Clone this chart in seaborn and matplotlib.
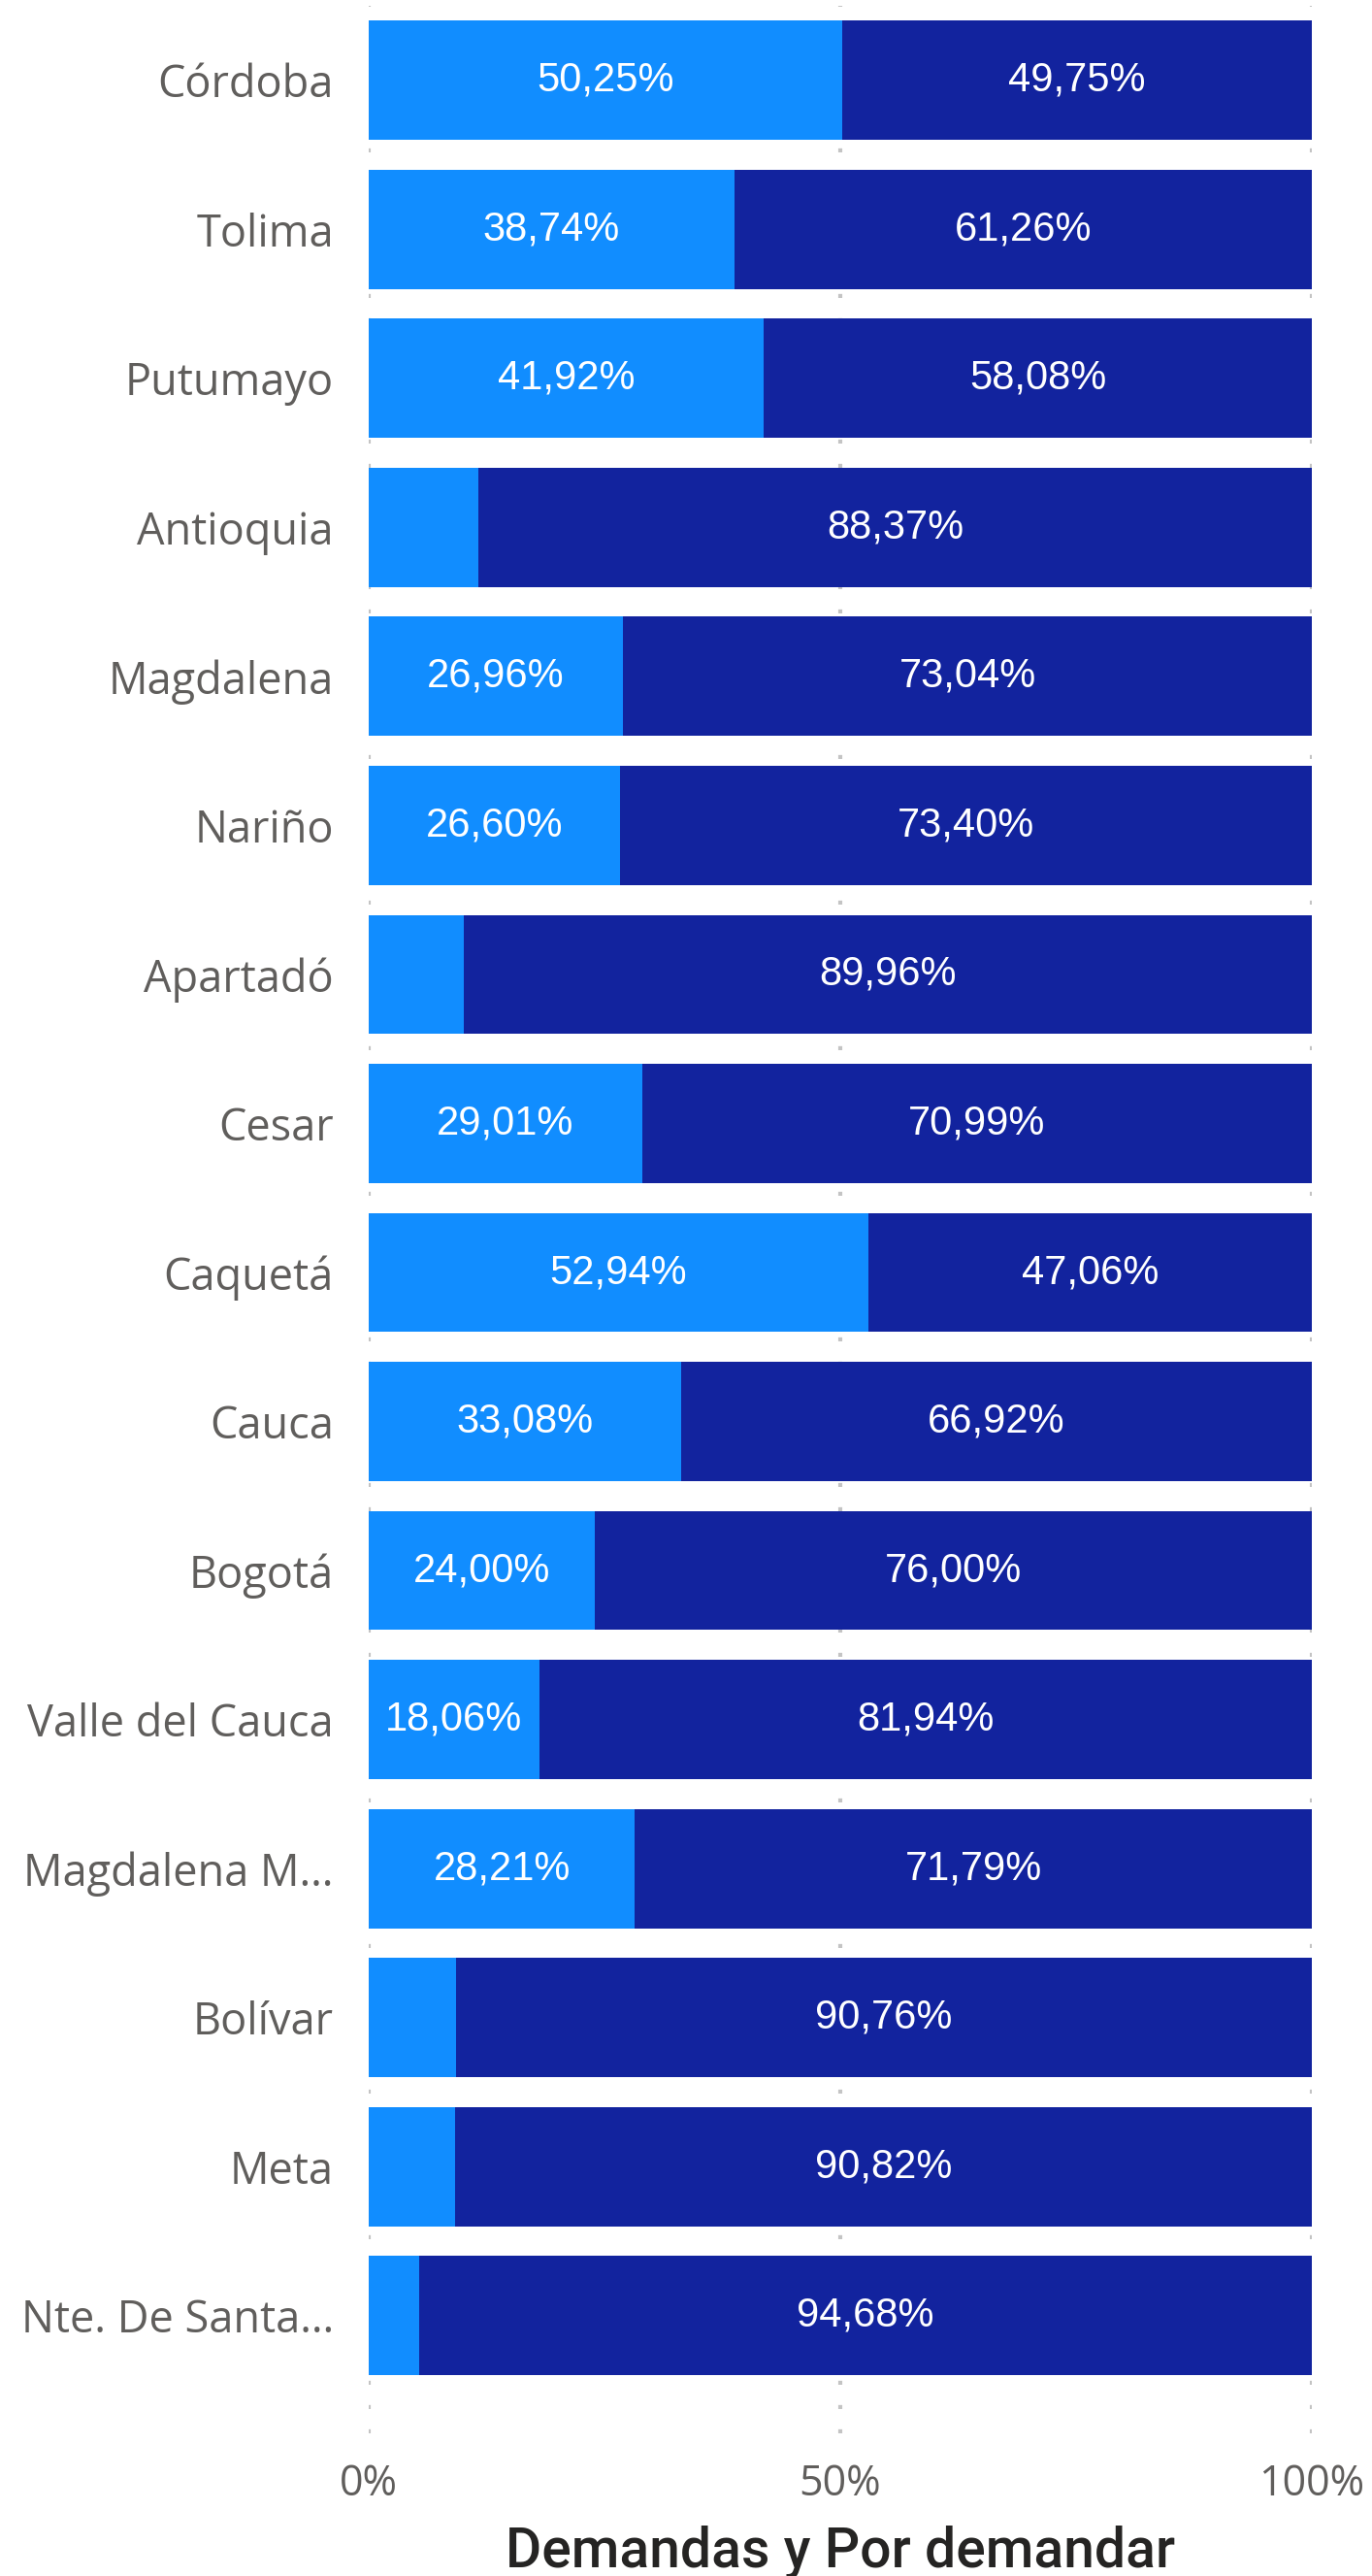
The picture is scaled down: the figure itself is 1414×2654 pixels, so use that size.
import matplotlib
matplotlib.use("Agg")
import matplotlib.pyplot as plt
import seaborn as sns
import pandas as pd

regions = ["Córdoba", "Tolima", "Putumayo", "Antioquia", "Magdalena", "Nariño",
           "Apartadó", "Cesar", "Caquetá", "Cauca", "Bogotá", "Valle del Cauca",
           "Magdalena M…", "Bolívar", "Meta", "Nte. De Santa…"]
demandas = [50.25, 38.74, 41.92, 11.63, 26.96, 26.60, 10.04, 29.01, 52.94, 33.08,
            24.00, 18.06, 28.21, 9.24, 9.18, 5.32]
por_demandar = [49.75, 61.26, 58.08, 88.37, 73.04, 73.40, 89.96, 70.99, 47.06, 66.92,
                76.00, 81.94, 71.79, 90.76, 90.82, 94.68]
x_ticks = [0, 50, 100]
x_tick_labels = ["0%", "50%", "100%"]
x_title = "Demandas y Por demandar"

LIGHT = "#118DFF"
DARK = "#12239E"
GRAY = "#605E5C"

df = pd.DataFrame({"region": regions, "demandas": demandas, "por_demandar": por_demandar})
df["total"] = df["demandas"] + df["por_demandar"]

sns.set_theme(style="white")
plt.rcParams["font.family"] = ["Open Sans", "DejaVu Sans"]

fig = plt.figure(figsize=(14.14, 26.54), dpi=100)
ax = fig.add_axes([380 / 1414, 1 - 2507 / 2654, (1352 - 380) / 1414, (2507 - 6) / 2654])

sns.barplot(data=df, y="region", x="total", color=DARK, width=0.8, ax=ax,
            saturation=1, orient="h", zorder=2, linewidth=0, edgecolor="none")
sns.barplot(data=df, y="region", x="demandas", color=LIGHT, width=0.8, ax=ax,
            saturation=1, orient="h", zorder=3, linewidth=0, edgecolor="none")

for xv in x_ticks:
    ax.axvline(xv, color="#C4C4C4", lw=3.0, linestyle=(0, (1, 5)), zorder=1)

for i, (d, p) in enumerate(zip(demandas, por_demandar)):
    if d >= 15:
        ax.text(d / 2, i, f"{d:.2f}%".replace(".", ","), ha="center", va="center",
                color="white", fontsize=30, family=["Liberation Sans"], zorder=4)
    ax.text(d + p / 2, i, f"{p:.2f}%".replace(".", ","), ha="center", va="center",
            color="white", fontsize=30, family=["Liberation Sans"], zorder=4)

ax.set_xlim(0, 100)
ax.set_ylim(15.79, -0.5)
ax.set_xticks(x_ticks)
ax.set_xticklabels(x_tick_labels, color=GRAY, fontsize=31)
ax.tick_params(axis="x", length=0, pad=22)
ax.tick_params(axis="y", length=0, pad=26, labelsize=32.5, labelcolor=GRAY)
ax.set_ylabel("")
ax.set_xlabel(x_title, fontsize=41, color="#252423", fontweight="medium",
              family=["Roboto", "DejaVu Sans"])
ax.xaxis.set_label_coords(0.5, -(2629 - 2507) / 2501)
ax.xaxis.label.set_va("center")
for s in ax.spines.values():
    s.set_visible(False)
ax.grid(False)

fig.savefig("out.png", dpi=100, facecolor="white")
